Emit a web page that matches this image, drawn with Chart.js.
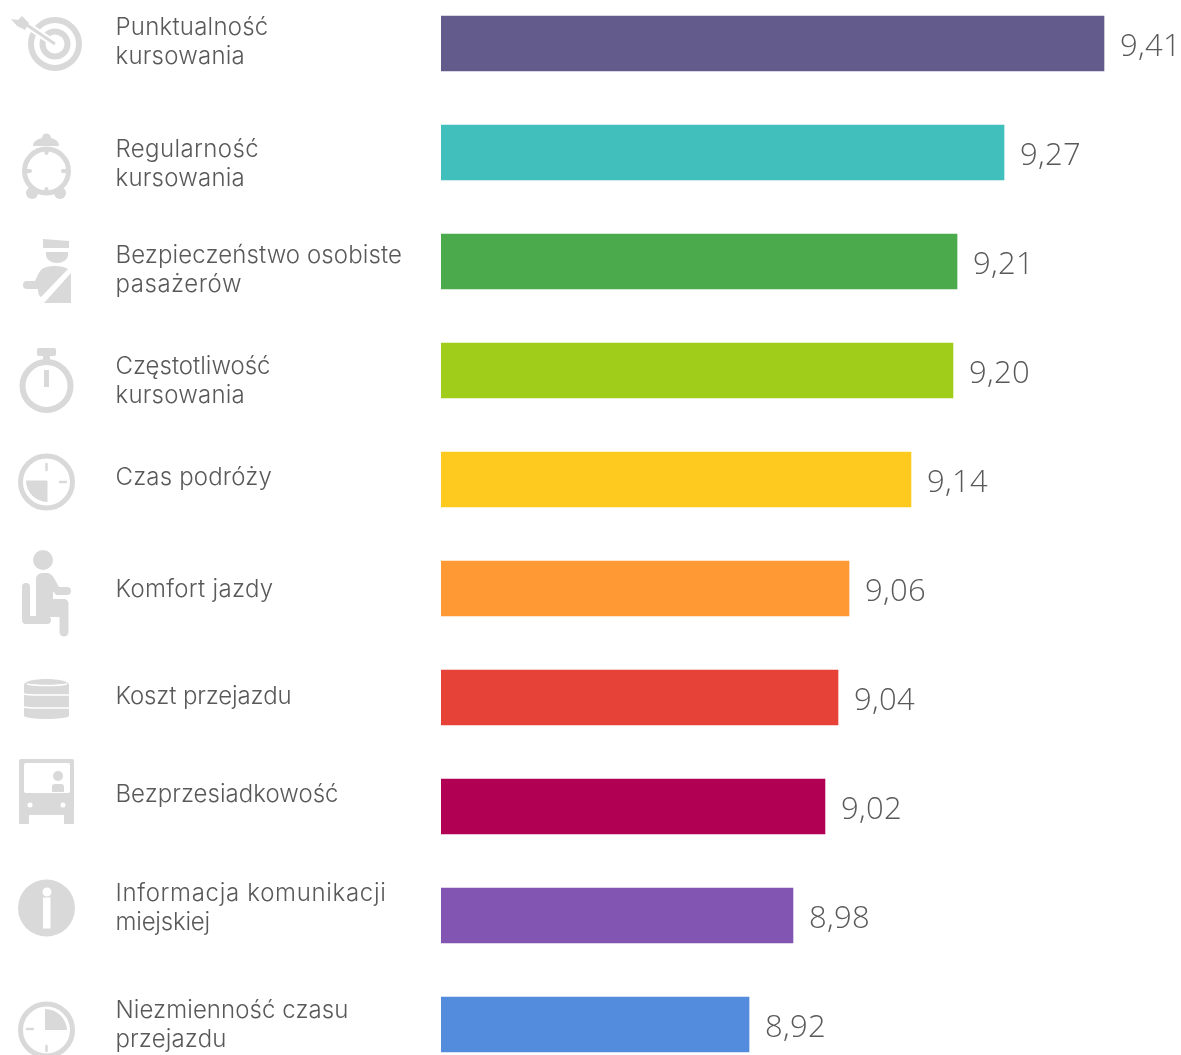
<!DOCTYPE html>
<html lang="pl">
<head>
<meta charset="utf-8">
<title>Ocena cech komunikacji miejskiej</title>
<script src="https://cdn.jsdelivr.net/npm/chart.js@4"></script>
<style>
  html, body { margin: 0; padding: 0; background: #fff; }
  #page { position: relative; width: 1181px; height: 1055px; overflow: hidden; }
  #chart { position: absolute; left: 0; top: -11px; }
  #icons { position: absolute; left: 0; top: 0; }
  #icons * { fill: #d9d9d9; }
  #icons .ring { fill: none; stroke: #d9d9d9; }
  #icons .cut { fill: #fff; }
  #icons .cutline { fill: none; stroke: #fff; }
  #icons .line { fill: none; stroke: #d9d9d9; stroke-linecap: round; stroke-linejoin: round; }
</style>
</head>
<body>
<div id="page">
  <canvas id="chart" width="1181" height="1090"></canvas>
  <svg id="icons" width="430" height="1055" viewBox="0 0 430 1055">
    <!-- cel -->
    <circle class="ring" cx="55" cy="44" r="24" stroke-width="6"/>
    <circle class="ring" cx="55" cy="44" r="12.5" stroke-width="6"/>
    <path class="cutline" d="M55 44L24 23" stroke-width="7"/>
    <path class="ring" d="M55 44L24 23" stroke-width="3"/>
    <path d="M22 16l7 7-4 7-8-4-6-7 7 1z"/>
    <!-- budzik -->
    <circle class="ring" cx="46.5" cy="171" r="22" stroke-width="5"/>
    <path d="M33 146c0-5 5-7 9-8a4.500 4.500 0 0 1 9 0c4 1 8 3 8 8z"/>
    <circle cx="32" cy="193" r="6"/><circle cx="60" cy="193" r="6"/>
    <path class="line" d="M46.500 150v3M46.500 189v3M27 171h3M63 171h3" stroke-width="4"/>
    <!-- ochrona -->
    <path d="M43 239l26 2v7H43z"/>
    <path d="M46 252h22v3a11 8 0 0 1-22 0z"/>
    <path d="M41 270c3-3 8-4 14-4 5 0 10 1 13 3L41 297c-3-2-3-5-3-8h-11a4 4 0 0 1 0-8h8c2-4 3-8 6-11z"/>
    <path d="M71 273v30H44z"/>
    <!-- stoper -->
    <circle class="ring" cx="46.500" cy="386" r="24" stroke-width="6"/>
    <rect x="37" y="348" width="19" height="8" rx="2"/>
    <rect x="43" y="355" width="7" height="8"/>
    <rect x="44" y="370" width="5" height="17"/>
    <!-- czas podrozy -->
    <circle class="ring" cx="46.500" cy="482" r="26" stroke-width="5"/>
    <path d="M47.500 480.500H26A21.500 21.500 0 0 0 47.500 502z"/>
    <path class="line" d="M46.500 464v6M60 482h6" stroke-width="2.500"/>
    <!-- komfort -->
    <circle cx="43" cy="560" r="10"/>
    <path class="line" d="M26 587v33h21" stroke-width="8"/>
    <path d="M36 579a6 6 0 0 1 6-6h5c3 0 5 2 7 5l5 9h8a4 4 0 0 1 0 8H56l-3-4v8h11a4.500 4.500 0 0 1 4.500 4.500V632a4.500 4.500 0 0 1-9 0v-15H36z"/>
    <!-- koszt -->
    <path d="M24 685c0-8 45-8 45 0v31c-3 4-42 4-45 0z"/>
    <path class="cutline" d="M27 684c10 2 30 2 40 0M24 694c4 1 10 1 15 1h30M24 707c4 1 10 1 15 1h30" stroke-width="1.500"/>
    <!-- autobus -->
    <rect x="19" y="759" width="55" height="56" rx="2"/>
    <rect x="19" y="814" width="10" height="10" rx="1"/><rect x="64" y="814" width="10" height="10" rx="1"/>
    <rect class="cut" x="24" y="763" width="46" height="30" rx="2"/>
    <circle cx="58" cy="776" r="5"/>
    <path d="M52 787a3 3 0 0 1 3-3h6a3 3 0 0 1 3 3v5H52z"/>
    <circle class="cut" cx="30" cy="805" r="2.500"/><circle class="cut" cx="63" cy="805" r="2.500"/>
    <!-- informacja -->
    <circle cx="46.500" cy="908" r="28.500"/>
    <circle class="cut" cx="47" cy="892" r="4.500"/>
    <rect class="cut" x="43" y="897.500" width="7.500" height="31"/>
    <!-- niezmiennosc -->
    <circle class="ring" cx="46.500" cy="1030" r="26" stroke-width="5"/>
    <path d="M45 1009A22 22 0 0 1 67 1030H45z"/>
    <path class="line" d="M27 1029h6M46.500 1046v5" stroke-width="2.500"/>
  </svg>
</div>
<script>
const categories = [
  ["Punktualność", "kursowania"],
  ["Regularność", "kursowania"],
  ["Bezpieczeństwo osobiste", "pasażerów"],
  ["Częstotliwość", "kursowania"],
  ["Czas podróży"],
  ["Komfort jazdy"],
  ["Koszt przejazdu"],
  ["Bezprzesiadkowość"],
  ["Informacja komunikacji", "miejskiej"],
  ["Niezmienność czasu", "przejazdu"],
];
const values = [9.41, 9.2719, 9.207, 9.2014, 9.1434, 9.0578, 9.0426, 9.0246, 8.9804, 8.9197];
const valueLabels = ["9,41", "9,27", "9,21", "9,20", "9,14", "9,06", "9,04", "9,02", "8,98", "8,92"];
const barColors = [
  "#625B8B", "#41BFBC", "#4BAA4B", "#A0CD19", "#FFCA1F",
  "#FF9933", "#E64237", "#B10054", "#8155B1", "#548CDD",
];
// baseline of the first label line, relative to the middle of the bar
const labelOffsets = [-8.5, 4.5, 1.5, 3.5, 5.5, 8.5, 6.5, -4.5, -14.5, -6.5];
// measured width of each label line, the font here runs a bit narrower
const labelWidths = [
  [153, 129.5], [143.5, 129.5], [286.5, 126.5], [155, 129.5], [156.5],
  [158], [176], [223], [271, 94.5], [233, 111],
];

const textPlugin = {
  id: "barTexts",
  afterDatasetsDraw(chart) {
    const { ctx } = chart;
    const xScale = chart.scales.x;
    const yScale = chart.scales.y;
    ctx.save();
    ctx.fillStyle = "#595959";
    ctx.textBaseline = "alphabetic";
    ctx.textAlign = "left";

    categories.forEach((lines, i) => {
      const middle = yScale.getPixelForValue(i);
      ctx.font = "300 24px Inter";
      lines.forEach((line, n) => {
        ctx.letterSpacing = "0px";
        const spare = labelWidths[i][n] - ctx.measureText(line).width;
        ctx.letterSpacing = `${spare / line.length}px`;
        ctx.fillText(line, 115.5, middle + labelOffsets[i] + n * 29);
      });
      ctx.font = "300 31px 'Open Sans'";
      ctx.letterSpacing = "0.3px";
      ctx.fillText(valueLabels[i], xScale.getPixelForValue(values[i]) + 16, middle + 12);
    });
    ctx.restore();
  },
};

new Chart(document.getElementById("chart"), {
  type: "bar",
  data: {
    labels: categories.map((lines) => lines.join(" ")),
    datasets: [
      {
        data: values,
        backgroundColor: barColors,
        barThickness: 55,
        borderWidth: 0,
      },
    ],
  },
  options: {
    indexAxis: "y",
    responsive: false,
    animation: false,
    layout: { padding: { left: 441 } },
    plugins: {
      legend: { display: false },
      title: { display: false },
      tooltip: { enabled: false },
    },
    scales: {
      x: { display: false, min: 8.49425, max: 9.51636 },
      y: { display: false },
    },
  },
  plugins: [textPlugin],
});
</script>
</body>
</html>
